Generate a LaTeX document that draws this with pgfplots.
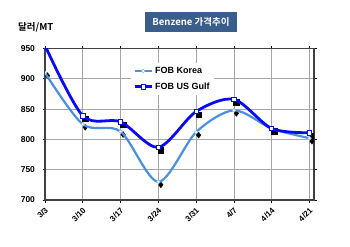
\documentclass[border=0pt]{standalone}
\usepackage{fontspec}
\setmainfont{Liberation Sans}
\newfontfamily\kr{Noto Sans CJK KR}[BoldFont={* Bold}]
\usepackage{pgfplots}
\pgfplotsset{compat=1.18}
\definecolor{kor}{RGB}{74,144,220}
\definecolor{usg}{RGB}{10,10,240}
\definecolor{titlebg}{RGB}{58,94,140}
\begin{document}
\begin{tikzpicture}
\useasboundingbox (-45pt,-46pt) rectangle (305pt,200pt);
\begin{axis}[at={(0,0)}, anchor=south west, scale only axis,
  width=269pt, height=151.5pt,
  xmin=0, xmax=7.12, ymin=700, ymax=950,
  xtick={0,...,7}, xticklabels={3/3,3/10,3/17,3/24,3/31,4/7,4/14,4/21},
  ytick={700,750,...,950},
  grid=major, grid style={gray!70, line width=0.8pt},
  axis line style={black!75, line width=1.2pt},
  tick align=outside, major tick length=2.5pt, tick style={black, line width=0.8pt},
  ticklabel style={font=\bfseries\fontsize{8.5}{10}\selectfont},
  /pgf/number format/assume math mode=true,
  xticklabel style={xshift=4pt, yshift=-4pt, rotate=45, anchor=east, font=\bfseries\fontsize{8}{9}\selectfont},
  yticklabel style={xshift=-4pt},
  clip marker paths=true,
  legend style={at={(0.32,0.905)}, anchor=north west, draw=none, fill=white,
    font=\bfseries\fontsize{9}{10}\selectfont, row sep=4pt, inner sep=2pt},
  legend cell align=left,
]
\addplot[forget plot, only marks, mark=diamond*, mark size=3pt, black, shift={(2.5pt,-3pt)}] coordinates {
(0,910) (1,825) (2,813) (3,730) (4,812) (5,848) (6,818) (7,802)};
\addplot[forget plot, only marks, mark=square*, mark size=2.8pt, black, shift={(2.5pt,-3pt)}] coordinates {
(0,955) (1,839) (2,829) (3,787) (4,846) (5,866) (6,818) (7,811)};
\addplot[kor, line width=2.2pt, smooth, mark=*, mark size=1.8pt, mark options={fill=white, draw=kor!60, line width=0.6pt}] coordinates {
(0,910) (1,825) (2,813) (3,730) (4,812) (5,848) (6,818) (7,802)};
\addlegendentry{FOB Korea}
\addplot[usg, line width=2.8pt, smooth, mark=square*, mark size=2.2pt, mark options={fill=white, draw=usg, line width=0.8pt}] coordinates {
(0,955) (1,839) (2,829) (3,787) (4,846) (5,866) (6,818) (7,811)};
\addlegendentry{FOB US Gulf}
\end{axis}
\node[fill=titlebg, text=white, font=\kr\bfseries\fontsize{9.5}{11}\selectfont, minimum width=92pt, minimum height=20.5pt, inner sep=1pt] at (146pt,178pt) {Benzene 가격추이};
\node[font=\kr\bfseries\fontsize{9.5}{10}\selectfont, anchor=west, inner sep=0pt] at (-27pt,173pt) {달러/MT};
\end{tikzpicture}
\end{document}
